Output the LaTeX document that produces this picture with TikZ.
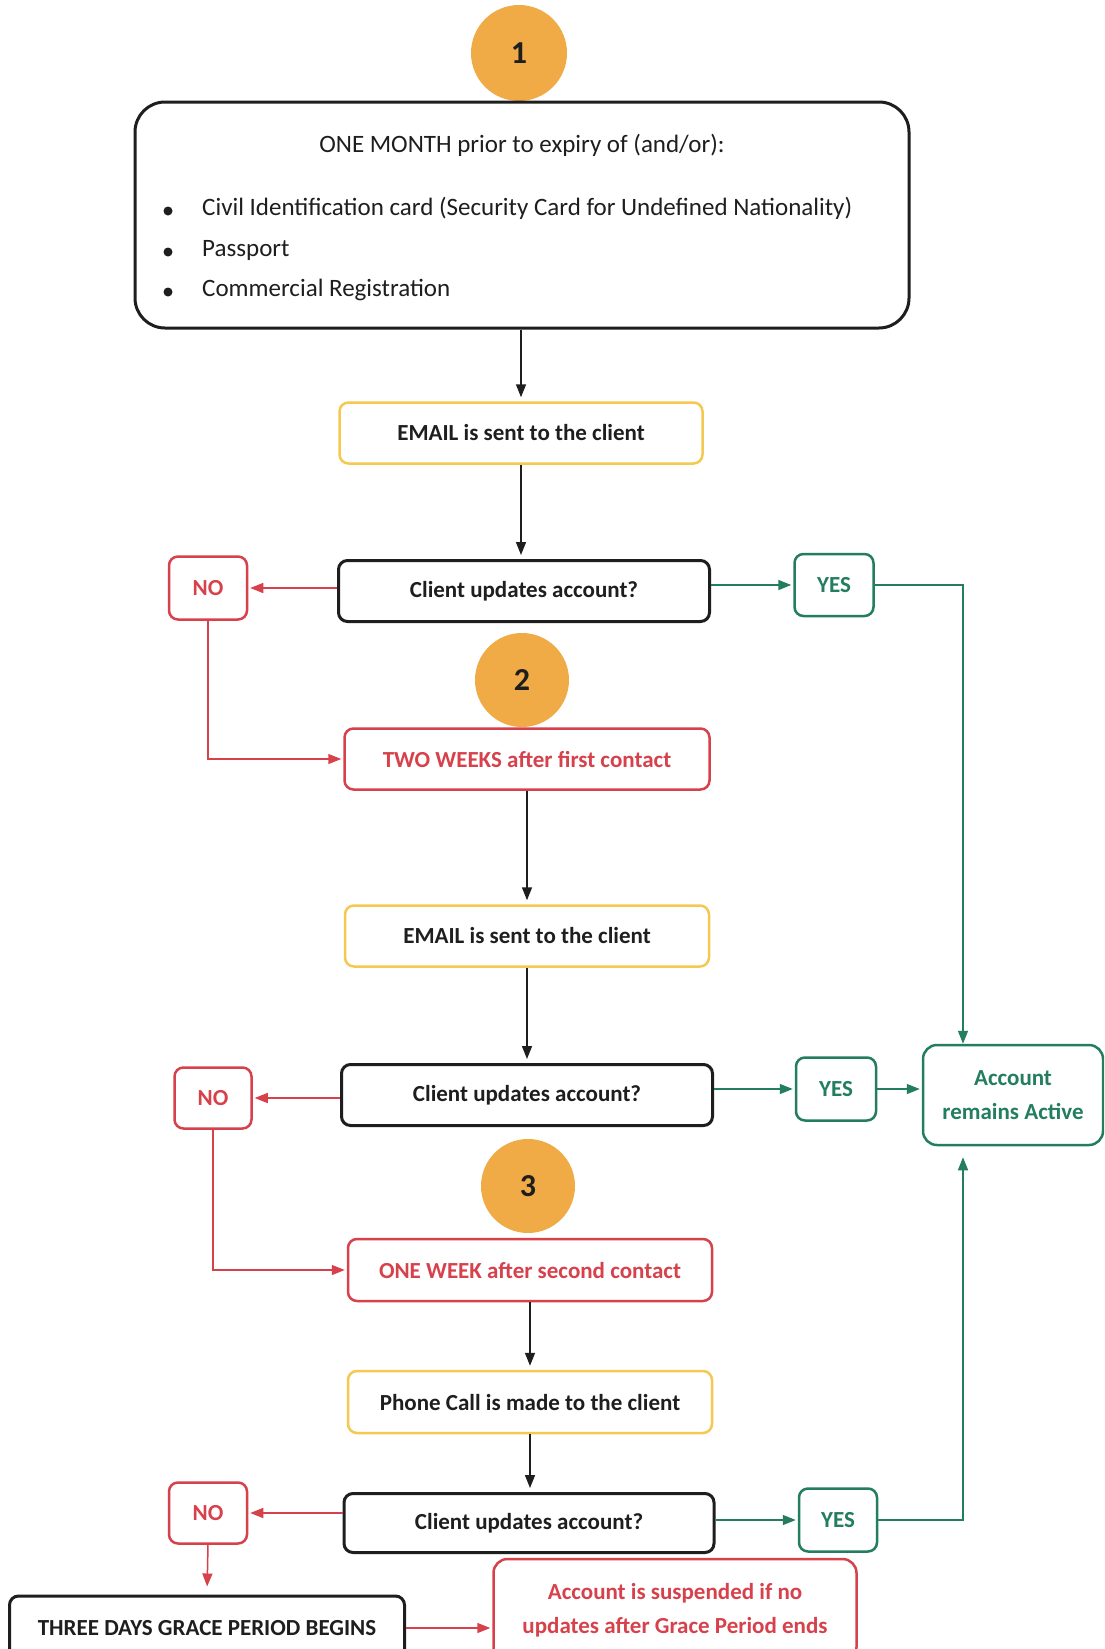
\documentclass[tikz,border=0pt]{standalone}
\usepackage{fontspec}
\setmainfont{Carlito}
\usetikzlibrary{arrows.meta}
\definecolor{cred}{RGB}{215,65,75}
\definecolor{cgreen}{RGB}{35,125,95}
\definecolor{corange}{RGB}{240,170,70}
\definecolor{cyellow}{RGB}{245,200,80}
\definecolor{cblack}{RGB}{30,30,30}
\tikzset{
  numcircle/.style={circle, fill=corange, minimum size=96pt, inner sep=0pt, font=\fontsize{32}{36}\selectfont\bfseries, text=cblack},
  basebox/.style={rounded corners=9pt, inner sep=0pt, font=\fontsize{23}{27}\selectfont\bfseries, align=center},
  blackbox/.style={basebox, draw=cblack, line width=3pt, text=cblack},
  yellowbox/.style={basebox, draw=cyellow, line width=2.5pt, text=cblack},
  redbox/.style={basebox, draw=cred, line width=2.5pt, text=cred},
  greenbox/.style={basebox, draw=cgreen, line width=2.5pt, text=cgreen},
  blackarrow/.style={draw=cblack, line width=1.5pt, -{Triangle[length=13pt,width=10pt]}, shorten >=4pt},
  redarrow/.style={draw=cred, line width=1.5pt, -{Triangle[length=13pt,width=10pt]}, shorten >=2pt},
  greenarrow/.style={draw=cgreen, line width=1.5pt, -{Triangle[length=13pt,width=10pt]}, shorten >=2pt},
  plaintext/.style={inner sep=0pt, font=\fontsize{25}{29}\selectfont, text=cblack},
  bulletdot/.style={circle, fill=cblack, minimum size=9pt, inner sep=0pt}
}
\begin{document}
\begin{tikzpicture}[x=1pt, y=-1pt]
\useasboundingbox (0,0) rectangle (1104,1649);
\clip (0,0) rectangle (1104,1649);
\fill[white] (0,0) rectangle (1104,1649);

% step 1
\node[numcircle] (c1) at (519,53) {1};
\node[draw=cblack, line width=3pt, rounded corners=30pt, minimum width=774pt, minimum height=226pt, inner sep=0pt] (box1) at (522,215) {};
\node[plaintext] (title) at (522,145) {ONE MONTH prior to expiry of (and/or):};
\node[bulletdot] (b1) at (168,211) {};
\node[bulletdot] (b2) at (168,252) {};
\node[bulletdot] (b3) at (168,292) {};
\node[plaintext, anchor=west] (t1) at (202,208) {Civil Identification card (Security Card for Undefined Nationality)};
\node[plaintext, anchor=west] (t2) at (202,250) {Passport};
\node[plaintext, anchor=west] (t3) at (202,290) {Commercial Registration};

\node[yellowbox, minimum width=363pt, minimum height=61pt] (email1) at (521,433) {EMAIL is sent to the client};
\node[blackbox, minimum width=371pt, minimum height=61pt] (dec1) at (524,591) {Client updates account?};
\node[redbox, minimum width=78pt, minimum height=63pt] (no1) at (208,588) {NO};
\node[greenbox, minimum width=79pt, minimum height=62pt] (yes1) at (834,585) {YES};

% step 2
\node[numcircle, minimum size=94pt] (c2) at (522,680) {2};
\node[redbox, minimum width=365pt, minimum height=61pt] (two) at (527,759) {TWO WEEKS after first contact};
\node[yellowbox, minimum width=364pt, minimum height=61pt] (email2) at (527,936) {EMAIL is sent to the client};
\node[blackbox, minimum width=371pt, minimum height=61pt] (dec2) at (527,1095) {Client updates account?};
\node[redbox, minimum width=77pt, minimum height=61pt] (no2) at (213,1098) {NO};
\node[greenbox, minimum width=80pt, minimum height=63pt] (yes2) at (836,1089) {YES};
\node[greenbox, minimum width=180pt, minimum height=100pt, rounded corners=14pt, font=\fontsize{23}{34}\selectfont\bfseries] (acct) at (1013,1095) {Account\\remains Active};

% step 3
\node[numcircle, minimum size=94pt] (c3) at (528,1186) {3};
\node[redbox, minimum width=364pt, minimum height=62pt] (onew) at (530,1270) {ONE WEEK after second contact};
\node[yellowbox, minimum width=364pt, minimum height=62pt] (phone) at (530,1402) {Phone Call is made to the client};
\node[blackbox, minimum width=370pt, minimum height=59pt] (dec3) at (529,1523) {Client updates account?};
\node[redbox, minimum width=78pt, minimum height=61pt] (no3) at (208,1513) {NO};
\node[greenbox, minimum width=78pt, minimum height=63pt] (yes3) at (838,1520) {YES};

\node[blackbox, minimum width=395pt, minimum height=64pt] (three) at (207,1628) {THREE DAYS GRACE PERIOD BEGINS};
\node[redbox, minimum width=363pt, minimum height=102pt, rounded corners=14pt, font=\fontsize{23}{34}\selectfont\bfseries] (susp) at (675,1610) {Account is suspended if no\\updates after Grace Period ends};

\coordinate (acin) at ([xshift=-50pt]acct.north);
\coordinate (acout) at ([xshift=-50pt]acct.south);

% connectors
\draw[blackarrow] (box1.south -| email1.north) -- (email1.north);
\draw[blackarrow] (email1.south) -- (email1.south |- dec1.north);
\draw[redarrow] (dec1.west |- no1.east) -- (no1.east);
\draw[greenarrow] (dec1.east |- yes1.west) -- (yes1.west);
\draw[greenarrow, shorten >=0pt] (yes1.east) -| (acin);
\draw[redarrow] (no1.south) |- (two.west);

\draw[blackarrow] (two.south) -- (email2.north);
\draw[blackarrow] (email2.south) -- (dec2.north);
\draw[redarrow] (dec2.west |- no2.east) -- (no2.east);
\draw[greenarrow] (dec2.east |- yes2.west) -- (yes2.west);
\draw[greenarrow] (yes2.east) -- (yes2.east -| acct.west);
\draw[redarrow] (no2.south) |- (onew.west);

\draw[blackarrow] (onew.south) -- (phone.north);
\draw[blackarrow] (phone.south) -- (phone.south |- dec3.north);
\draw[redarrow] (dec3.west |- no3.east) -- (no3.east);
\draw[greenarrow] (dec3.east |- yes3.west) -- (yes3.west);
\draw[greenarrow, shorten >=11pt] (yes3.east) -| (acout);
\draw[redarrow, shorten >=8pt] (no3.south) -- (three.north);
\draw[redarrow] (three.east) -- (three.east -| susp.west);
\end{tikzpicture}
\end{document}
